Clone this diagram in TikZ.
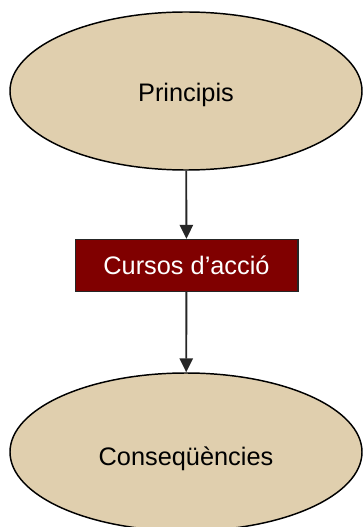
\documentclass[tikz,border=0pt]{standalone}
\usepackage{fontspec}
\setmainfont{Liberation Sans}
\usetikzlibrary{shapes.geometric,arrows.meta}
\definecolor{sorra}{RGB}{224,207,174}
\definecolor{granat}{RGB}{128,0,0}
\definecolor{fosc}{RGB}{38,38,38}
\tikzset{>={Triangle[length=10.5pt,width=10pt]}}
\tikzset{
  bombolla/.style={ellipse, draw=black, line width=1.1pt, fill=sorra,
    minimum width=264pt, minimum height=118.5pt, inner sep=0pt,
    text height=16pt, text depth=0pt,
    font=\fontsize{19}{23}\selectfont},
  caixa/.style={rectangle, draw=fosc, line width=1pt, fill=granat, text=white,
    minimum width=167pt, minimum height=39pt, inner sep=0pt,
    font=\fontsize{19}{23}\selectfont},
  fletxa/.style={->, draw=fosc, line width=1.4pt}
}

\begin{document}
\begin{tikzpicture}[x=0.75pt, y=-0.75pt]
    \useasboundingbox (0,0) rectangle (363,527);
    \clip (0,0) rectangle (363,527);
    \node [bombolla] (prin) at (186,91) {Principis};
    \node [caixa] (curs) at (186.5,265.5) {Cursos d’acció};
    \node [bombolla, text height=20pt] (cons) at (186,452) {Conseqüències};
    \draw [fletxa] (prin) -- (curs);
    \draw [fletxa] (curs) -- (cons);
\end{tikzpicture}
\end{document}
